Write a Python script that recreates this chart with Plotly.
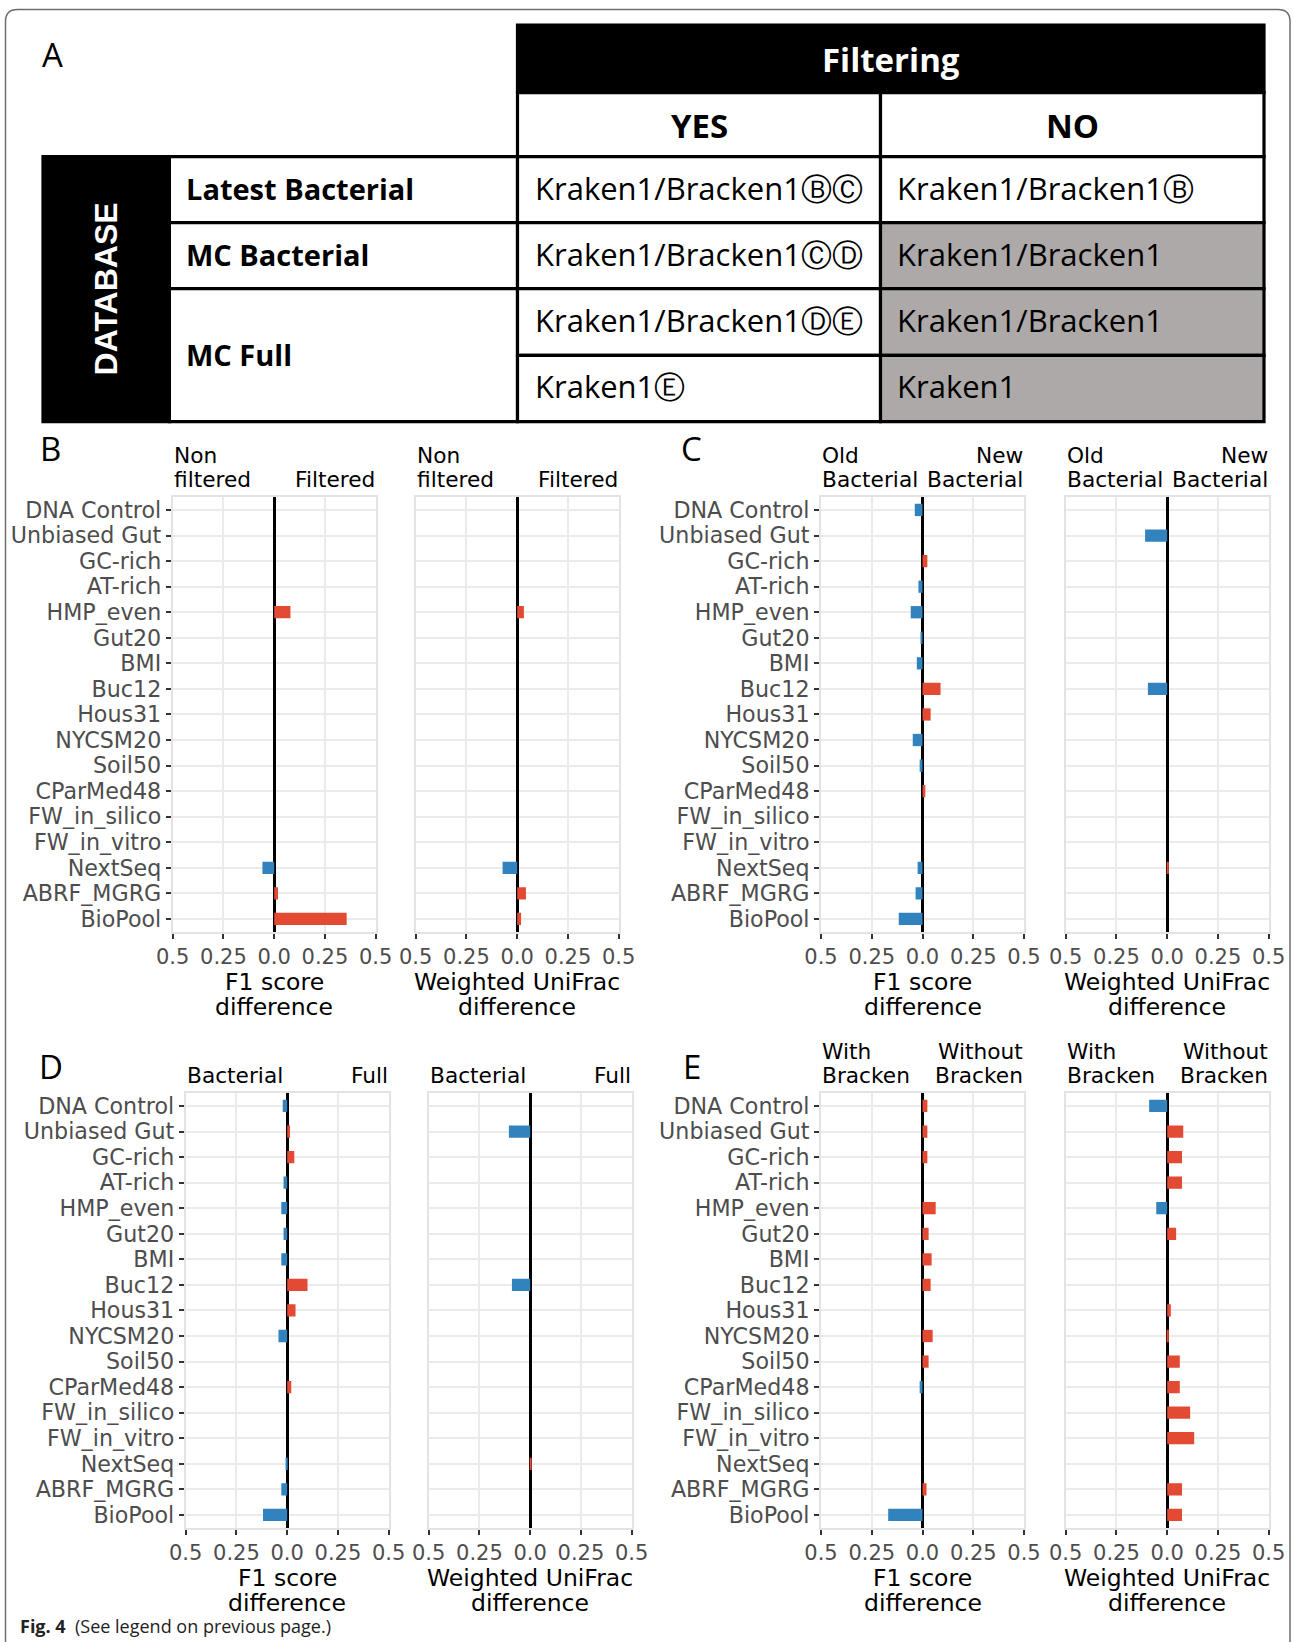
import plotly.graph_objects as go

W, H = 1293, 1642

# ---------------- data ----------------
categories = ["DNA Control", "Unbiased Gut", "GC-rich", "AT-rich", "HMP_even", "Gut20", "BMI",
              "Buc12", "Hous31", "NYCSM20", "Soil50", "CParMed48", "FW_in_silico",
              "FW_in_vitro", "NextSeq", "ABRF_MGRG", "BioPool"]

b_f1      = [0, 0, 0, 0, 0.080, 0, 0, 0, 0, 0, 0, 0, 0, 0, -0.058, 0.019, 0.357]
b_unifrac = [0, 0, 0, 0, 0.033, 0, 0, 0, 0, 0, 0, 0, 0, 0, -0.072, 0.043, 0.019]
c_f1      = [-0.038, 0, 0.024, -0.020, -0.058, -0.010, -0.028, 0.089, 0.040, -0.048, -0.014,
             0.014, 0, 0, -0.024, -0.034, -0.117]
c_unifrac = [0, -0.109, 0, 0, 0, 0, 0, -0.095, 0, 0, 0, 0, 0, 0, 0.008, 0, 0]
d_f1      = [-0.022, 0.014, 0.035, -0.018, -0.029, -0.018, -0.029, 0.100, 0.041, -0.043, 0,
             0.020, 0, 0, -0.008, -0.029, -0.119]
d_unifrac = [0, -0.105, 0, 0, 0, 0, 0, -0.090, 0, 0, 0, 0, 0, 0, 0.006, 0, 0]
e_f1      = [0.024, 0.024, 0.024, 0, 0.065, 0.030, 0.045, 0.040, 0, 0.050, 0.030, -0.014,
             0, 0, 0, 0.020, -0.169]
e_unifrac = [-0.089, 0.079, 0.073, 0.073, -0.054, 0.044, 0, 0, 0.018, 0.008, 0.062, 0.062,
             0.113, 0.133, 0, 0.073, 0.073]

tick_vals = [-0.5, -0.25, 0, 0.25, 0.5]
tick_text = ["0.5", "0.25", "0.0", "0.25", "0.5"]

axis_titles = ["F1 score", "difference"]
axis_titles_uni = ["Weighted UniFrac", "difference"]

panel_letters = ["A", "B", "C", "D", "E"]
side_labels = {
    "B": (["Non", "filtered"], ["", "Filtered"]),
    "C": (["Old", "Bacterial"], ["New", "Bacterial"]),
    "D": (["", "Bacterial"], ["", "Full"]),
    "E": (["With", "Bracken"], ["Without", "Bracken"]),
}

# table content
table_header = "Filtering"
table_cols = ["YES", "NO"]
table_side = "DATABASE"
table_rows = ["Latest Bacterial", "MC Bacterial", "MC Full"]
cells_yes = ["Kraken1/Bracken1ⒷⒸ", "Kraken1/Bracken1ⒸⒹ", "Kraken1/Bracken1ⒹⒺ", "Kraken1Ⓔ"]
cells_no = ["Kraken1/Bracken1Ⓑ", "Kraken1/Bracken1", "Kraken1/Bracken1", "Kraken1"]
cells_no_grey = [False, True, True, True]

caption_bold = "Fig. 4"
caption_text = "(See legend on previous page.)"

RED = "#E34A33"
BLUE = "#3182BD"

# ---------------- helpers ----------------
def fx(px):
    return px / W

def fy(py):
    return 1 - py / H

# panel geometry (pixels)
PW = 203
TOP1, BOT1 = 496.7, 932.2
TOP2, BOT2 = 1092.7, 1528.2
panels = [
    ("B", 172.7, 415.7, TOP1, BOT1, b_f1, b_unifrac),
    ("C", 821.0, 1065.7, TOP1, BOT1, c_f1, c_unifrac),
    ("D", 185.7, 428.7, TOP2, BOT2, d_f1, d_unifrac),
    ("E", 821.0, 1065.7, TOP2, BOT2, e_f1, e_unifrac),
]
letter_pos = {"A": (52, 54), "B": (50, 448), "C": (691, 449), "D": (51, 1066), "E": (692, 1066)}

fig = go.Figure()
layout = dict(
    width=W, height=H, margin=dict(l=0, r=0, t=0, b=0, pad=0, autoexpand=False),
    paper_bgcolor="white", plot_bgcolor="white", showlegend=False,
)
annotations = []
shapes = []

TICKFONT = dict(family="DejaVu Sans", size=21, color="#4D4D4D")
CATFONT = dict(family="DejaVu Sans", size=22.2, color="#4D4D4D")
TITLEFONT = dict(family="DejaVu Sans", size=23.5, color="black")
SIDEFONT = dict(family="DejaVu Sans", size=21.7, color="black")

ax_i = 0
for (name, xl1, xl2, top, bot, f1, uni) in panels:
    for k, (xl, vals, titles) in enumerate([(xl1, f1, axis_titles), (xl2, uni, axis_titles_uni)]):
        ax_i += 1
        xa = "xaxis" if ax_i == 1 else f"xaxis{ax_i}"
        ya = "yaxis" if ax_i == 1 else f"yaxis{ax_i}"
        xr = "x" if ax_i == 1 else f"x{ax_i}"
        yr = "y" if ax_i == 1 else f"y{ax_i}"
        colors = [RED if v > 0 else BLUE for v in vals]
        fig.add_trace(go.Bar(
            x=vals, y=categories, orientation="h", width=0.48,
            marker=dict(color=colors, line=dict(width=0)),
            xaxis=xr, yaxis=yr, hoverinfo="x+y",
        ))
        layout[xa] = dict(
            domain=[fx(xl), fx(xl + PW)], anchor=yr, range=[-0.5, 0.5], automargin=False,
            tickmode="array", tickvals=tick_vals, ticktext=tick_text,
            tickfont=TICKFONT, ticks="outside", ticklen=5, tickwidth=1.5, tickcolor="#333333",
            showgrid=True, gridcolor="#EBEBEB", gridwidth=1.6,
            showline=True, mirror=True, linecolor="#E3E3E3", linewidth=2,
            zeroline=True, zerolinecolor="black", zerolinewidth=2.6,
            fixedrange=True,
        )
        layout[ya] = dict(
            domain=[fy(bot), fy(top)], anchor=xr, type="category", automargin=False,
            categoryorder="array", categoryarray=categories, range=[16.52, -0.52],
            tickmode="array", tickvals=categories, ticktext=categories,
            showgrid=True, gridcolor="#EBEBEB", gridwidth=1.6,
            showline=True, mirror=True, linecolor="#E3E3E3", linewidth=2,
            showticklabels=(k == 0), ticks="outside" if k == 0 else "",
            ticklen=5, tickwidth=1.5, tickcolor="#333333", tickfont=CATFONT,
            fixedrange=True,
        )
        # axis title (two lines)
        xc = xl + PW / 2
        for j, t in enumerate(titles):
            annotations.append(dict(
                x=fx(xc), y=fy(bot + 49.5 + 25 * j), xref="paper", yref="paper",
                text=t, showarrow=False, xanchor="center", yanchor="middle", font=TITLEFONT,
            ))
        # side labels above
        left_lines, right_lines = side_labels[name]
        for j, t in enumerate(left_lines):
            if t:
                annotations.append(dict(
                    x=fx(xl - 1), y=fy(top - 41.5 + 24.7 * j), xref="paper", yref="paper",
                    text=t, showarrow=False, xanchor="left", yanchor="middle", font=SIDEFONT,
                ))
        for j, t in enumerate(right_lines):
            if t:
                annotations.append(dict(
                    x=fx(xl + PW + 1), y=fy(top - 41.5 + 24.7 * j), xref="paper", yref="paper",
                    text=t, showarrow=False, xanchor="right", yanchor="middle", font=SIDEFONT,
                ))

for L in panel_letters:
    px, py = letter_pos[L]
    annotations.append(dict(
        x=fx(px), y=fy(py), xref="paper", yref="paper", text=L, showarrow=False,
        xanchor="center", yanchor="middle",
        font=dict(family="Open Sans", size=33, color="black"),
    ))

# ---------------- outer frame ----------------
fl, fr, ft, r = 5.5, 1290, 9.5, 12
path = (f"M {fx(fl)},{fy(1660)} L {fx(fl)},{fy(ft + r)} "
        f"Q {fx(fl)},{fy(ft)} {fx(fl + r)},{fy(ft)} L {fx(fr - r)},{fy(ft)} "
        f"Q {fx(fr)},{fy(ft)} {fx(fr)},{fy(ft + r)} L {fx(fr)},{fy(1660)}")
shapes.append(dict(type="path", path=path, xref="paper", yref="paper",
                   line=dict(color="#6E6E6E", width=1.5)))

# ---------------- table ----------------
BW = 3.2
def rect(x0, y0, x1, y1, fill="white", lw=BW, lc="black"):
    shapes.append(dict(type="rect", xref="paper", yref="paper",
                       x0=fx(x0), x1=fx(x1), y0=fy(y1), y1=fy(y0),
                       fillcolor=fill, line=dict(color=lc, width=lw), layer="below"))

cx0, cx1, cx2 = 517.5, 880.5, 1264
ry = [156.7, 222.7, 288.7, 355.3, 421.7]
hy0, hy1 = 25, 92.7
dbx0, dbx1 = 43, 169.4

rect(cx0, hy0, cx2, hy1, fill="black")
rect(cx0, hy1, cx1, ry[0])
rect(cx1, hy1, cx2, ry[0])
rect(dbx0, ry[0], dbx1, ry[4], fill="black")
rect(dbx1, ry[0], cx0, ry[1])
rect(dbx1, ry[1], cx0, ry[2])
rect(dbx1, ry[2], cx0, ry[4])
for i in range(4):
    rect(cx0, ry[i], cx1, ry[i + 1])
    rect(cx1, ry[i], cx2, ry[i + 1], fill="#ADA9A8" if cells_no_grey[i] else "white")

BOLD = dict(family="Open Sans", size=33, color="black")
annotations.append(dict(x=fx((cx0 + cx2) / 2), y=fy(59), xref="paper", yref="paper",
                        text=f"<b>{table_header}</b>", showarrow=False,
                        font=dict(family="Open Sans", size=33, color="white"),
                        xanchor="center", yanchor="middle"))
for (x0, x1), t in zip([(cx0, cx1), (cx1, cx2)], table_cols):
    annotations.append(dict(x=fx((x0 + x1) / 2), y=fy(125), xref="paper", yref="paper",
                            text=f"<b>{t}</b>", showarrow=False, font=BOLD,
                            xanchor="center", yanchor="middle"))
annotations.append(dict(x=fx((dbx0 + dbx1) / 2), y=fy((ry[0] + ry[4]) / 2), xref="paper",
                        yref="paper", text=f"<b>{table_side}</b>", showarrow=False,
                        textangle=-90,
                        font=dict(family="Liberation Sans", size=32, color="white"),
                        xanchor="center", yanchor="middle"))
row_y = [(ry[0] + ry[1]) / 2, (ry[1] + ry[2]) / 2, (ry[2] + ry[4]) / 2]
for t, yy in zip(table_rows, row_y):
    annotations.append(dict(x=fx(184), y=fy(yy - 1), xref="paper", yref="paper",
                            text=f"<b>{t}</b>", showarrow=False,
                            font=dict(family="Open Sans", size=29, color="black"),
                            xanchor="left", yanchor="middle"))
for i in range(4):
    yy = (ry[i] + ry[i + 1]) / 2 - 2
    annotations.append(dict(x=fx(533), y=fy(yy), xref="paper", yref="paper",
                            text=cells_yes[i], showarrow=False,
                            font=dict(family="Open Sans", size=31, color="black"),
                            xanchor="left", yanchor="middle"))
    annotations.append(dict(x=fx(895), y=fy(yy), xref="paper", yref="paper",
                            text=cells_no[i], showarrow=False,
                            font=dict(family="Open Sans", size=31, color="black"),
                            xanchor="left", yanchor="middle"))

# ---------------- caption ----------------
annotations.append(dict(x=fx(18), y=fy(1626), xref="paper", yref="paper",
                        text=f"<b>{caption_bold}</b>  {caption_text}", showarrow=False,
                        font=dict(family="Open Sans", size=18, color="#222222"),
                        xanchor="left", yanchor="middle"))

layout["annotations"] = annotations
layout["shapes"] = shapes
fig.update_layout(**layout)
fig.write_html(
    "out.html",
    config={"displayModeBar": False},
    post_script="document.body.style.margin='0';document.body.style.overflow='hidden';",
)
